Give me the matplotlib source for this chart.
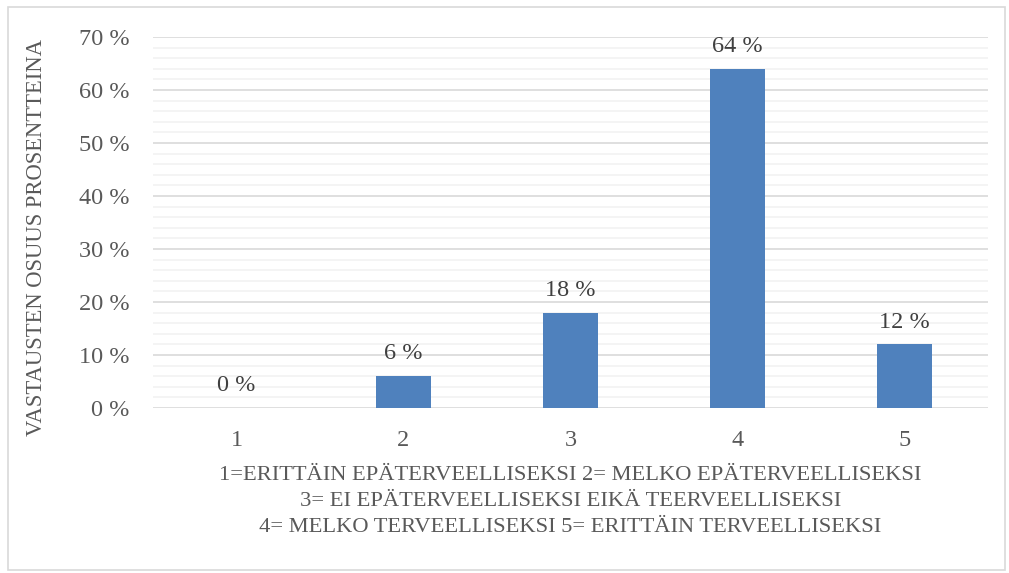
import matplotlib
matplotlib.use("Agg")
import matplotlib.pyplot as plt
from matplotlib.patches import Rectangle
import numpy as np

categories = ["1", "2", "3", "4", "5"]
values = [0, 6, 18, 64, 12]
y_ticks = [0, 10, 20, 30, 40, 50, 60, 70]
y_label = "VASTAUSTEN OSUUS PROSENTTEINA"
x_label = ("1=ERITTÄIN EPÄTERVEELLISEKSI 2= MELKO EPÄTERVEELLISEKSI\n"
           "3= EI EPÄTERVEELLISEKSI EIKÄ TEERVEELLISEKSI\n"
           "4= MELKO TERVEELLISEKSI 5= ERITTÄIN TERVEELLISEKSI")

plt.rcParams['font.family'] = ['Liberation Serif', 'DejaVu Serif']

fig = plt.figure(figsize=(10.09, 5.73), dpi=100)
fig.patches.append(Rectangle((0.008, 0.005), 0.988, 0.983, transform=fig.transFigure,
                             fill=False, edgecolor='#d9d9d9', linewidth=1.2))
ax = fig.add_axes([153/1009, 1 - 408/573, (988-153)/1009, (408-37)/573])

x = np.arange(len(categories))
ax.bar(x, values, width=0.335, color='#4f81bd', zorder=3)
for xi, v in zip(x, values):
    ax.text(xi, v + 4.2, f"{v} %", ha='center', va='center', fontsize=17.5, color='#404040')

ax.set_xlim(-0.5, len(categories) - 0.5)
ax.set_ylim(0, 70)
ax.set_yticks(y_ticks)
ax.set_yticklabels([f"{t} %" for t in y_ticks])
ax.set_yticks(np.arange(0, 71, 2), minor=True)
ax.grid(axis='y', which='major', color='#d9d9d9', linewidth=1.2, zorder=0)
ax.grid(axis='y', which='minor', color='#f2f2f2', linewidth=1.2, zorder=0)
ax.set_xticks(x)
ax.set_xticklabels(categories)
ax.tick_params(axis='both', which='both', length=0, labelsize=17.5, labelcolor='#595959')
ax.tick_params(axis='y', pad=17)
ax.tick_params(axis='x', pad=16)
for s in ax.spines.values():
    s.set_visible(False)

ax.set_ylabel(y_label, fontsize=16.3, color='#595959', va='center')
ax.yaxis.set_label_coords(-0.139, 0.46)
ax.set_xlabel(x_label, fontsize=16.2, color='#595959', linespacing=1.5, labelpad=11)

fig.savefig("out.png", dpi=100)
